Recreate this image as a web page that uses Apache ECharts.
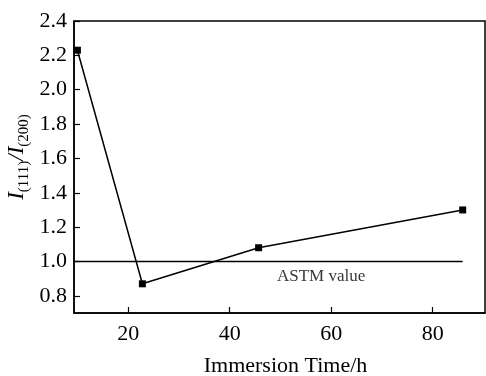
<!DOCTYPE html>
<html>
<head>
<meta charset="utf-8">
<script src="https://cdn.jsdelivr.net/npm/echarts@6/dist/echarts.min.js"></script>
<style>html,body{margin:0;padding:0;background:#fff}#c{width:486px;height:376px}</style>
</head>
<body>
<div id="c"></div>
<script>
var timeH = [10, 22.8, 45.7, 85.9];
var ratio = [2.23, 0.87, 1.08, 1.30];
var astmX = [9.33, 85.9];
var astmY = [1.0, 1.0];
var astmLabelX = 58;
var xTicks = [20, 40, 60, 80];
var yTicks = [0.8, 1.0, 1.2, 1.4, 1.6, 1.8, 2.0, 2.2, 2.4];
var xMin = 9.33, xMax = 90.3, yMin = 0.7, yMax = 2.4;

var font = '"Liberation Serif", "Times New Roman", serif';
var chart = echarts.init(document.getElementById('c'), null, {renderer: 'canvas'});
chart.setOption({
  animation: false,
  grid: {left: 74, right: 1, top: 21, bottom: 63, show: true, borderColor: '#000', borderWidth: 1.5,
    containLabel: false, outerBoundsMode: 'none'},
  xAxis: {
    type: 'value', min: xMin, max: xMax,
    name: 'Immersion Time/h', nameLocation: 'middle', nameGap: 42, nameMoveOverlap: false,
    nameTextStyle: {fontFamily: font, fontSize: 22, color: '#000', padding: [0, 0, 0, 12]},
    axisLine: {lineStyle: {color: '#000', width: 1.5}},
    axisTick: {show: true, inside: true, length: 6, customValues: xTicks, lineStyle: {color: '#000', width: 1.2}},
    axisLabel: {customValues: xTicks, fontFamily: font, fontSize: 22, color: '#000', margin: 10},
    splitLine: {show: false}
  },
  yAxis: {
    type: 'value', min: yMin, max: yMax,
    name: '{i|I}{s|(111)}{sl|/}{i|I}{s|(200)}', nameLocation: 'middle', nameGap: 46, nameRotate: 90,
    nameMoveOverlap: false,
    nameTextStyle: {
      fontFamily: font, fontSize: 22, color: '#000', padding: [0, 0, 0, 20],
      rich: {
        i: {fontFamily: font, fontSize: 23, fontStyle: 'italic', color: '#000', verticalAlign: 'bottom'},
        s: {fontFamily: font, fontSize: 15, color: '#000', verticalAlign: 'bottom', padding: [0, 0, -4, 0]},
        sl: {fontFamily: font, fontSize: 23, fontStyle: 'italic', color: '#000', verticalAlign: 'bottom'}
      }
    },
    axisLine: {lineStyle: {color: '#000', width: 1.5}},
    axisTick: {show: true, inside: true, length: 6, customValues: yTicks, lineStyle: {color: '#000', width: 1.2}},
    axisLabel: {customValues: yTicks, fontFamily: font, fontSize: 22, color: '#000', margin: 7,
      formatter: function (v) { return v.toFixed(1); }},
    splitLine: {show: false}
  },
  series: [
    {
      type: 'line', data: astmX.map(function (x, i) { return [x, astmY[i]]; }),
      symbol: 'none', lineStyle: {color: '#000', width: 1.5}, silent: true
    },
    {
      type: 'scatter', data: [[astmLabelX, astmY[0]]], symbolSize: 0, silent: true,
      label: {show: true, position: 'bottom', distance: 7, formatter: 'ASTM value',
        fontFamily: font, fontSize: 17, color: '#000'}
    },
    {
      type: 'line', data: timeH.map(function (x, i) { return [x, ratio[i]]; }),
      symbol: 'rect', symbolSize: 7, itemStyle: {color: '#000'},
      lineStyle: {color: '#000', width: 1.5}
    }
  ]
});
</script>
</body>
</html>
